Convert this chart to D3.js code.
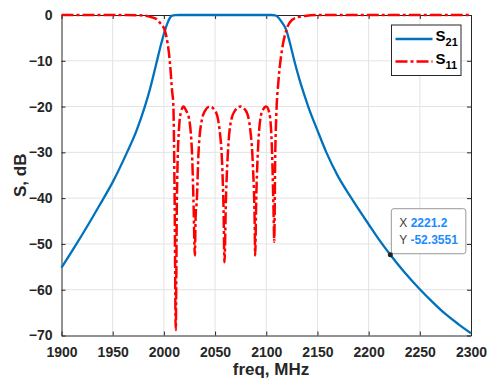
<!DOCTYPE html>
<html>
<head>
<meta charset="utf-8">
<script src="https://cdn.jsdelivr.net/npm/d3@7"></script>
<style>
  body { margin: 0; background: #fff; }
  svg { font-family: "Liberation Sans", Arial, sans-serif; }
</style>
</head>
<body>
<script>
// values
const xTicks = [1900, 1950, 2000, 2050, 2100, 2150, 2200, 2250, 2300]
const yTicks = [-70, -60, -50, -40, -30, -20, -10, 0]

const freqS21 = [1900, 1913, 1925, 1937, 1950, 1964, 1973, 1981, 1986.5, 1992.4, 1997, 2001, 2004, 2006, 2008, 2011, 2015,
  2060, 2105, 2108.8, 2112, 2115, 2119.6, 2123, 2127.4, 2133, 2138, 2141, 2150, 2158.7, 2170, 2183.8, 2200, 2210,
  2221.2, 2235, 2250, 2262.5, 2275, 2287.5, 2300]
const s21 = [-55.2, -50.6, -46.2, -41.6, -36.5, -30, -25.4, -20.3, -16.1, -10.8, -6.6, -3.4, -1.5, -0.6, -0.15, -0.02, 0,
  0, 0, -0.1, -0.6, -1.5, -3.3, -6, -10, -14.5, -18, -20, -25.2, -30, -35.2, -40.2, -45.7, -49,
  -52.36, -56.2, -59.9, -62.7, -65.3, -67.5, -69.5]

const freqS11 = [1900, 1960, 1975, 1985, 1993, 1996.5, 2001, 2003.5, 2005, 2006.5, 2007.8, 2009.3, 2010.5, 2011.6,
  2012.7, 2013.3, 2014.9, 2016.6, 2019.2, 2022, 2024, 2027.3, 2028.9, 2030.3,
  2031, 2032.2, 2033.8, 2037.1, 2040.3, 2044.6, 2050.1, 2054.4, 2057, 2058.3, 2059.2,
  2060.6, 2062.5, 2065.8, 2069.7, 2074.6, 2080.1, 2084.4, 2087, 2088.6, 2089.2,
  2090.2, 2091.9, 2094.1, 2096.8, 2100, 2103.2, 2105.6, 2107.1, 2107.8,
  2108.8, 2109.8, 2112, 2115.4, 2119.6, 2125.1, 2131, 2138, 2150, 2300]
const s11 = [0, 0, -0.05, -0.3, -0.9, -1.8, -3.4, -6, -8.4, -12, -16, -20, -40, -68.8,
  -40.4, -33.1, -24.4, -21.3, -20, -21, -22, -29.2, -40.4, -52.5,
  -44, -40.4, -30.2, -22.9, -20.9, -20, -20.9, -25.1, -33.1, -42.6, -54,
  -40.4, -30.2, -22.9, -20.8, -20, -20.9, -25.1, -33.1, -44, -52.5,
  -40.4, -29.5, -22.9, -20.7, -20, -21.6, -29.5, -42.6, -49.5,
  -30, -22, -14.2, -7.6, -3.3, -1.1, -0.5, -0.2, 0, 0]

const tipX = 2221.2
const tipY = -52.3551

const margin = {top: 15, bottom: 45.5, left: 61.5, right: 20}
const width = 491 - margin.left - margin.right
const height = 381 - margin.top - margin.bottom

const svg = d3.select('body').append('svg')
  .attr('width', 491)
  .attr('height', 381)

const g = svg.append('g')
  .attr('transform', `translate(${margin.left},${margin.top})`)

const xscale = d3.scaleLinear().domain([1900, 2300]).range([0, width])
const yscale = d3.scaleLinear().domain([-70, 0]).range([height, 0])

// grid
g.append('g').selectAll('line').data(xTicks.slice(1, -1)).join('line')
  .attr('x1', d => xscale(d)).attr('x2', d => xscale(d))
  .attr('y1', 0).attr('y2', height)
  .attr('stroke', '#e3e3e3').attr('stroke-width', 1)
g.append('g').selectAll('line').data(yTicks.slice(1, -1)).join('line')
  .attr('y1', d => yscale(d)).attr('y2', d => yscale(d))
  .attr('x1', 0).attr('x2', width)
  .attr('stroke', '#e3e3e3').attr('stroke-width', 1)

// axes, ticks inside like matlab
const axisColor = '#262626'
const styleAxis = (sel) => {
  sel.select('.domain').attr('stroke', axisColor)
  sel.selectAll('.tick line').attr('stroke', axisColor)
  sel.selectAll('.tick text').attr('fill', axisColor)
    .style('font-size', '14px').style('font-weight', 'bold')
    .style('font-family', '"Liberation Sans", Arial, sans-serif')
}

g.append('g').attr('transform', `translate(0,${height})`)
  .call(d3.axisBottom(xscale).tickValues(xTicks).tickFormat(d3.format('d'))
    .tickSizeInner(-4).tickSizeOuter(0).tickPadding(12))
  .call(styleAxis)
g.append('g')
  .call(d3.axisLeft(yscale).tickValues(yTicks).tickSizeInner(-4).tickSizeOuter(0).tickPadding(9))
  .call(styleAxis)
g.append('g')
  .call(d3.axisTop(xscale).tickValues(xTicks).tickSizeInner(-4).tickSizeOuter(0).tickFormat(''))
  .call(styleAxis)
g.append('g').attr('transform', `translate(${width},0)`)
  .call(d3.axisRight(yscale).tickValues(yTicks).tickSizeInner(-4).tickSizeOuter(0).tickFormat(''))
  .call(styleAxis)

// curves
svg.append('clipPath').attr('id', 'plot-clip')
  .append('rect').attr('x', -2).attr('y', -2).attr('width', width + 4).attr('height', height + 4)

const line = d3.line()
  .x(d => xscale(d[0]))
  .y(d => yscale(d[1]))
  .curve(d3.curveMonotoneX)

const dataS21 = freqS21.map((f, i) => [f, s21[i]])
const dataS11 = freqS11.map((f, i) => [f, s11[i]])

const dashS11 = '12,3,3,3'

const plot = g.append('g').attr('clip-path', 'url(#plot-clip)')
plot.append('path').datum(dataS21)
  .attr('d', line)
  .attr('fill', 'none')
  .attr('stroke', '#0072BD')
  .attr('stroke-width', 2.3)
plot.append('path').datum(dataS11)
  .attr('d', line)
  .attr('fill', 'none')
  .attr('stroke', '#FF0000')
  .attr('stroke-width', 2.5)
  .attr('stroke-dasharray', dashS11)

// axis labels
svg.append('text')
  .attr('x', 271).attr('y', 375)
  .attr('text-anchor', 'middle')
  .attr('fill', axisColor)
  .style('font-size', '17px').style('font-weight', 'bold')
  .text('freq, MHz')
svg.append('text')
  .attr('transform', `translate(26,${margin.top + height / 2}) rotate(-90)`)
  .attr('text-anchor', 'middle')
  .attr('fill', axisColor)
  .style('font-size', '17px').style('font-weight', 'bold')
  .text('S, dB')

// legend
const legend = g.append('g').attr('transform', `translate(${391.5 - margin.left},${25 - margin.top})`)
legend.append('rect')
  .attr('width', 69.5).attr('height', 50.5)
  .attr('fill', '#fff').attr('stroke', axisColor).attr('stroke-width', 1)
const legendItems = [
  {name: '21', color: '#0072BD', dash: null, w: 2.3, y: 14},
  {name: '11', color: '#FF0000', dash: dashS11, w: 2.5, y: 36.5}
]
legendItems.forEach(it => {
  legend.append('line')
    .attr('x1', 4).attr('x2', 41).attr('y1', it.y).attr('y2', it.y)
    .attr('stroke', it.color).attr('stroke-width', it.w)
    .attr('stroke-dasharray', it.dash)
  const t = legend.append('text')
    .attr('x', 44).attr('y', it.y + 2)
    .attr('fill', '#000')
    .style('font-size', '15px').style('font-weight', 'bold')
  t.append('tspan').text('S')
  t.append('tspan').attr('dy', 5).style('font-size', '11px').text(it.name)
})

// data tip
const tx = xscale(tipX), ty = yscale(tipY)
const tip = g.append('g')
tip.append('rect')
  .attr('x', tx + 1).attr('y', ty - 46)
  .attr('width', 74.5).attr('height', 45)
  .attr('rx', 2.5)
  .attr('fill', '#fff').attr('fill-opacity', 0.9)
  .attr('stroke', '#999').attr('stroke-width', 1)
const rows = [['X', d3.format('.1f')(tipX)], ['Y', tipY.toString()]]
rows.forEach((r, i) => {
  const t = tip.append('text')
    .attr('x', tx + 9).attr('y', ty - 28 + i * 17.5)
    .style('font-size', '12px')
  t.append('tspan').attr('fill', '#404040').text(r[0] + ' ')
  t.append('tspan').attr('fill', '#1a8cff').style('font-weight', 'bold').text(r[1])
})
tip.append('circle')
  .attr('cx', tx).attr('cy', ty).attr('r', 2.5)
  .attr('fill', '#222')
</script>
</body>
</html>
